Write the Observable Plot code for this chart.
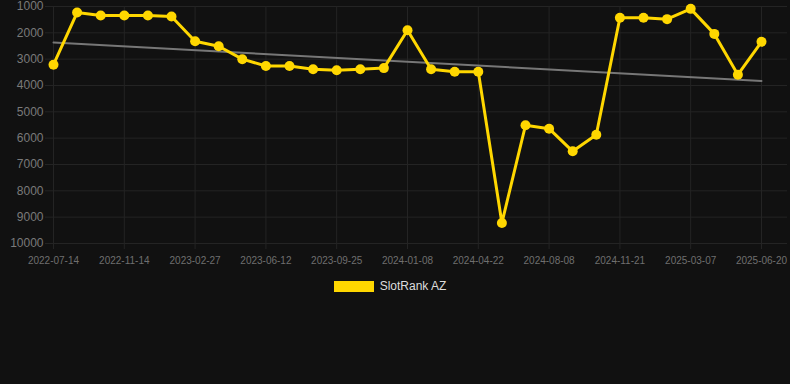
<!DOCTYPE html>
<html>
<head>
<meta charset="utf-8">
<script src="https://cdn.jsdelivr.net/npm/d3@7"></script>
<script src="https://cdn.jsdelivr.net/npm/@observablehq/plot@0.6"></script>
<style>
  html, body { margin: 0; padding: 0; background: #111111; }
  body { width: 790px; height: 384px; overflow: hidden; font-family: "Liberation Sans", Arial, sans-serif; }
  #legend { display: flex; justify-content: center; align-items: center; margin-top: 9px; padding-right: 10px; }
  #legend .sw { width: 40px; height: 11px; background: #FFD700; margin-right: 6px; }
  #legend .lb { font-size: 12px; color: #dddddd; }
</style>
</head>
<body>
<div id="chart"></div>
<div id="legend"><div class="sw"></div><div class="lb">SlotRank AZ</div></div>
<script>
const seriesName = "SlotRank AZ";
const tickLabels = ["2022-07-14","2022-11-14","2023-02-27","2023-06-12","2023-09-25","2024-01-08","2024-04-22","2024-08-08","2024-11-21","2025-03-07","2025-06-20"];
const ranks = [3210,1230,1340,1340,1340,1380,2320,2510,3000,3260,3260,3380,3420,3380,3340,1900,3380,3480,3480,9220,5510,5640,6500,5870,1430,1430,1480,1090,2040,3590,2340];
const yTicks = [1000,2000,3000,4000,5000,6000,7000,8000,9000,10000];

const data = ranks.map((v, i) => ({i, v}));
const xTicks = tickLabels.map((_, k) => k * 3);
const gridColor = "#242424";
const gold = "#FFD700";

const plot = Plot.plot({
  width: 790,
  height: 270,
  marginTop: 6,
  marginBottom: 27,
  marginLeft: 45,
  marginRight: 3,
  style: {background: "#111111", color: "#777777", fontFamily: "'Liberation Sans', Arial, sans-serif"},
  x: {domain: [0, ranks.length - 1], insetLeft: 8, insetRight: 26},
  y: {domain: [1000, 10000], reverse: true},
  marks: [
    Plot.gridY(yTicks, {stroke: gridColor, strokeOpacity: 1}),
    Plot.gridX(xTicks, {stroke: gridColor, strokeOpacity: 1}),
    Plot.axisY({ticks: yTicks, tickSize: 0, tickPadding: 2, fontSize: 12, fill: "#7a7a7a", label: null,
      tickFormat: d => String(d)}),
    Plot.axisX({ticks: xTicks, tickSize: 6, tickPadding: 7, fontSize: 10, stroke: gridColor, fill: "#6f6f6f", label: null,
      tickFormat: d => tickLabels[Math.round(d / 3)]}),
    Plot.linearRegressionY(data, {x: "i", y: "v", stroke: "#777777", strokeWidth: 2, ci: 0}),
    Plot.line(data, {x: "i", y: "v", stroke: gold, strokeWidth: 3}),
    Plot.dot(data, {x: "i", y: "v", r: 5, fill: gold, stroke: null})
  ]
});
document.getElementById("chart").appendChild(plot);
</script>
</body>
</html>
